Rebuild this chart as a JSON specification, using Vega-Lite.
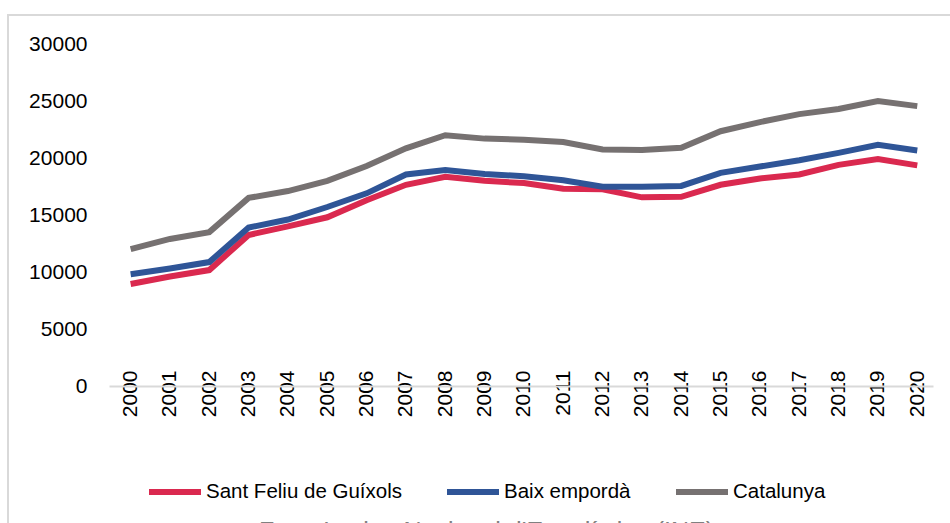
{
  "$schema": "https://vega.github.io/schema/vega-lite/v6.json",
  "width": 944,
  "height": 510,
  "autosize": "none",
  "padding": {"left": 8, "top": 15, "right": -2, "bottom": -2},
  "background": "white",
  "config": {
    "view": {"stroke": "#D9D9D9", "strokeWidth": 2},
    "font": "Liberation Sans"
  },
  "data": {
    "values": [
      {"series": "Sant Feliu de Guíxols", "year": 2000, "value": 8950},
      {"series": "Sant Feliu de Guíxols", "year": 2001, "value": 9600},
      {"series": "Sant Feliu de Guíxols", "year": 2002, "value": 10170},
      {"series": "Sant Feliu de Guíxols", "year": 2003, "value": 13250},
      {"series": "Sant Feliu de Guíxols", "year": 2004, "value": 14000},
      {"series": "Sant Feliu de Guíxols", "year": 2005, "value": 14800},
      {"series": "Sant Feliu de Guíxols", "year": 2006, "value": 16300},
      {"series": "Sant Feliu de Guíxols", "year": 2007, "value": 17650},
      {"series": "Sant Feliu de Guíxols", "year": 2008, "value": 18350},
      {"series": "Sant Feliu de Guíxols", "year": 2009, "value": 18000},
      {"series": "Sant Feliu de Guíxols", "year": 2010, "value": 17800},
      {"series": "Sant Feliu de Guíxols", "year": 2011, "value": 17300},
      {"series": "Sant Feliu de Guíxols", "year": 2012, "value": 17250},
      {"series": "Sant Feliu de Guíxols", "year": 2013, "value": 16550},
      {"series": "Sant Feliu de Guíxols", "year": 2014, "value": 16600},
      {"series": "Sant Feliu de Guíxols", "year": 2015, "value": 17650},
      {"series": "Sant Feliu de Guíxols", "year": 2016, "value": 18200},
      {"series": "Sant Feliu de Guíxols", "year": 2017, "value": 18550},
      {"series": "Sant Feliu de Guíxols", "year": 2018, "value": 19400},
      {"series": "Sant Feliu de Guíxols", "year": 2019, "value": 19900},
      {"series": "Sant Feliu de Guíxols", "year": 2020, "value": 19350},
      {"series": "Baix empordà", "year": 2000, "value": 9800},
      {"series": "Baix empordà", "year": 2001, "value": 10300},
      {"series": "Baix empordà", "year": 2002, "value": 10870},
      {"series": "Baix empordà", "year": 2003, "value": 13900},
      {"series": "Baix empordà", "year": 2004, "value": 14600},
      {"series": "Baix empordà", "year": 2005, "value": 15700},
      {"series": "Baix empordà", "year": 2006, "value": 16900},
      {"series": "Baix empordà", "year": 2007, "value": 18550},
      {"series": "Baix empordà", "year": 2008, "value": 18950},
      {"series": "Baix empordà", "year": 2009, "value": 18600},
      {"series": "Baix empordà", "year": 2010, "value": 18400},
      {"series": "Baix empordà", "year": 2011, "value": 18050},
      {"series": "Baix empordà", "year": 2012, "value": 17480},
      {"series": "Baix empordà", "year": 2013, "value": 17480},
      {"series": "Baix empordà", "year": 2014, "value": 17550},
      {"series": "Baix empordà", "year": 2015, "value": 18700},
      {"series": "Baix empordà", "year": 2016, "value": 19250},
      {"series": "Baix empordà", "year": 2017, "value": 19800},
      {"series": "Baix empordà", "year": 2018, "value": 20450},
      {"series": "Baix empordà", "year": 2019, "value": 21150},
      {"series": "Baix empordà", "year": 2020, "value": 20650},
      {"series": "Catalunya", "year": 2000, "value": 12000},
      {"series": "Catalunya", "year": 2001, "value": 12900},
      {"series": "Catalunya", "year": 2002, "value": 13500},
      {"series": "Catalunya", "year": 2003, "value": 16500},
      {"series": "Catalunya", "year": 2004, "value": 17100},
      {"series": "Catalunya", "year": 2005, "value": 18000},
      {"series": "Catalunya", "year": 2006, "value": 19300},
      {"series": "Catalunya", "year": 2007, "value": 20850},
      {"series": "Catalunya", "year": 2008, "value": 22000},
      {"series": "Catalunya", "year": 2009, "value": 21700},
      {"series": "Catalunya", "year": 2010, "value": 21600},
      {"series": "Catalunya", "year": 2011, "value": 21400},
      {"series": "Catalunya", "year": 2012, "value": 20750},
      {"series": "Catalunya", "year": 2013, "value": 20700},
      {"series": "Catalunya", "year": 2014, "value": 20900},
      {"series": "Catalunya", "year": 2015, "value": 22350},
      {"series": "Catalunya", "year": 2016, "value": 23150},
      {"series": "Catalunya", "year": 2017, "value": 23850},
      {"series": "Catalunya", "year": 2018, "value": 24300},
      {"series": "Catalunya", "year": 2019, "value": 25000},
      {"series": "Catalunya", "year": 2020, "value": 24550}
    ]
  },
  "mark": {"type": "line", "strokeWidth": 6},
  "encoding": {
    "x": {
      "field": "year",
      "type": "quantitative",
      "scale": {"domain": [1999.45, 2020.4], "range": [101, 925], "nice": false, "zero": false},
      "axis": {
        "values": [2000, 2001, 2002, 2003, 2004, 2005, 2006, 2007, 2008, 2009, 2010, 2011, 2012, 2013, 2014, 2015, 2016, 2017, 2018, 2019, 2020],
        "format": "d",
        "labelAngle": -90,
        "labelAlign": "right",
        "labelBaseline": "middle",
        "ticks": false,
        "tickSize": 0,
        "labelPadding": -16,
        "domainColor": "#D9D9D9",
        "domainWidth": 2,
        "grid": false,
        "offset": -139,
        "labelFontSize": 21,
        "labelColor": "#000000",
        "labelOverlap": false,
        "labelFlush": false,
        "title": "Font: Institut Nacional d'Estadística (INE)",
        "titleFontSize": 25,
        "titleColor": "#808080",
        "titleFontWeight": "normal",
        "titleX": 478,
        "titleY": 133,
        "titleBaseline": "top",
        "titleAlign": "center"
      }
    },
    "y": {
      "field": "value",
      "type": "quantitative",
      "scale": {"domain": [0, 30000], "range": [371, 29], "nice": false},
      "axis": {
        "values": [0, 5000, 10000, 15000, 20000, 25000, 30000],
        "format": "d",
        "domain": false,
        "ticks": false,
        "tickSize": 0,
        "grid": false,
        "offset": -85,
        "labelPadding": 6,
        "labelFontSize": 21,
        "labelColor": "#000000",
        "title": null
      }
    },
    "color": {
      "field": "series",
      "type": "nominal",
      "scale": {
        "domain": ["Sant Feliu de Guíxols", "Baix empordà", "Catalunya"],
        "range": ["#DA294F", "#2F5597", "#767171"]
      },
      "legend": {
        "orient": "none",
        "legendX": 138,
        "legendY": 448,
        "direction": "horizontal",
        "title": null,
        "padding": 0,
        "symbolType": "stroke",
        "symbolStrokeWidth": 6,
        "symbolSize": 2704,
        "labelFontSize": 20.5,
        "labelLimit": 0,
        "labelOffset": 2,
        "columnPadding": 33,
        "labelColor": "#000000"
      }
    }
  }
}
